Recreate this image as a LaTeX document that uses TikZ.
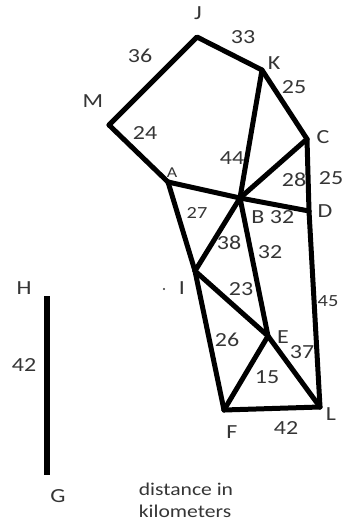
\documentclass[tikz,border=0pt]{standalone}
\usepackage{fontspec}
\setmainfont{Carlito}[FakeStretch=1.2]
\definecolor{txt}{HTML}{353535}
\begin{document}
\begin{tikzpicture}[x=1pt,y=-1pt,
  edge/.style={line width=5pt,line cap=round,line join=round},
  lbl/.style={text=txt,inner sep=0pt,font=\fontsize{20}{24}\selectfont},
  note/.style={text=txt,inner sep=0pt,font=\fontsize{18}{22}\selectfont,align=left}]
\useasboundingbox (0,0) rectangle (345,523);
% vertices
\coordinate (J) at (197,37);
\coordinate (K) at (262,70);
\coordinate (C) at (307,139);
\coordinate (M) at (109,125);
\coordinate (A) at (168,182);
\coordinate (B) at (240,198);
\coordinate (D) at (309,211);
\coordinate (I) at (195,271);
\coordinate (E) at (268,336);
\coordinate (F) at (224,410);
\coordinate (L) at (320,407);
\coordinate (H) at (47,296);
\coordinate (G) at (47,475);
% edges
\draw[edge] (M) -- (J) -- (K) -- (C);
\draw[edge] (M) -- (A);
\draw[edge] (K) -- (B);
\draw[edge] (C) -- (B);
\draw[edge] (C) -- (D);
\draw[edge] (A) -- (B);
\draw[edge] (B) -- (D);
\draw[edge] (A) -- (I);
\draw[edge] (B) -- (I);
\draw[edge] (B) -- (E);
\draw[edge] (I) -- (E);
\draw[edge] (I) -- (F);
\draw[edge] (E) -- (F);
\draw[edge] (E) -- (L);
\draw[edge] (F) -- (L);
\draw[edge] (D) -- (L);
\draw[line width=5.5pt] (H) -- (G);
% vertex labels
\node[lbl] (lJ) at (198,13) {J};
\node[lbl] (lK) at (274,63) {K};
\node[lbl] (lC) at (323,137) {C};
\node[lbl] (lM) at (93,101) {M};
\node[lbl,font=\fontsize{15}{18}\selectfont] (lA) at (172,173) {A};
\node[lbl] (lB) at (258,217) {B};
\node[lbl] (lD) at (325,211) {D};
\node[lbl] (lI) at (182,288) {I};
\node[lbl] (lE) at (283,337) {E};
\node[lbl] (lF) at (232,432) {F};
\node[lbl] (lL) at (331,414) {L};
\node[lbl] (lH) at (24,288) {H};
\node[lbl] (lG) at (58,496) {G};
\fill[txt] (164,289) circle (1.2pt);
% edge labels
\node[lbl] (w36) at (140,56) {36};
\node[lbl] (w33) at (243,37) {33};
\node[lbl] (w25a) at (294,87) {25};
\node[lbl] (w24) at (145,133) {24};
\node[lbl] (w44) at (232,158) {44};
\node[lbl] (w28) at (294,180) {28};
\node[lbl] (w25b) at (331,178) {25};
\node[lbl,font=\fontsize{17}{20}\selectfont] (w27) at (197,213) {27};
\node[lbl] (w32a) at (282,217) {32};
\node[lbl] (w38) at (229,243) {38};
\node[lbl] (w32b) at (270,252) {32};
\node[lbl] (w23) at (241,289) {23};
\node[lbl,font=\fontsize{17}{20}\selectfont] (w45) at (328,301) {45};
\node[lbl] (w26) at (227,340) {26};
\node[lbl] (w37) at (302,352) {37};
\node[lbl] (w15) at (267,377) {15};
\node[lbl] (w42a) at (286,428) {42};
\node[lbl] (w42b) at (24,365) {42};
\node[note] (nt) at (186,500) {distance in\\kilometers};
\end{tikzpicture}
\end{document}
